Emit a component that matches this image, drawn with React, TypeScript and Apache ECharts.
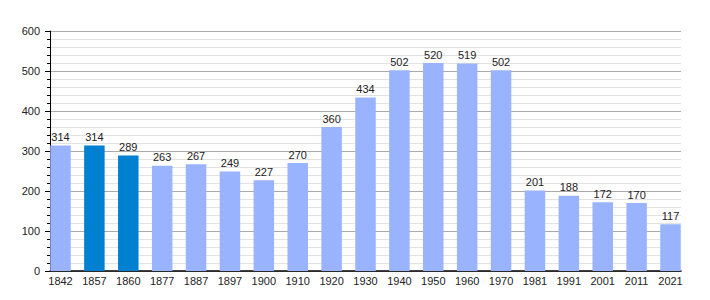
import React, { useEffect, useRef } from "react";
import * as echarts from "echarts";

const years: string[] = ["1842", "1857", "1860", "1877", "1887", "1897", "1900", "1910", "1920", "1930", "1940", "1950", "1960", "1970", "1981", "1991", "2001", "2011", "2021"];
const population: number[] = [314, 314, 289, 263, 267, 249, 227, 270, 360, 434, 502, 520, 519, 502, 201, 188, 172, 170, 117];
const highlighted: string[] = ["1857", "1860"];
const yTicks: number[] = [0, 100, 200, 300, 400, 500, 600];

const LIGHT = "#99b3ff";
const DARK = "#0080d0";
const FONT = "'Liberation Sans', Arial, sans-serif";

export default function App() {
  const ref = useRef<HTMLDivElement>(null);
  useEffect(() => {
    if (!ref.current) return;
    const chart = echarts.init(ref.current, null, { renderer: "svg" });
    const idx = years.map((_, i) => i);
    chart.setOption({
      animation: false,
      backgroundColor: "#ffffff",
      textStyle: { fontFamily: FONT },
      grid: { left: 50, right: 29, top: 31, bottom: 29, containLabel: false },
      xAxis: {
        type: "value",
        min: -0.31,
        max: years.length - 1 + 0.31,
        axisLine: { show: true, onZero: false, lineStyle: { color: "#000", width: 1.5 } },
        axisTick: { show: false },
        splitLine: { show: false },
        axisLabel: {
          show: true,
          customValues: idx,
          formatter: (v: number) => years[Math.round(v)] ?? "",
          color: "#222",
          fontSize: 11,
          fontFamily: FONT,
          margin: 4,
        },
      },
      yAxis: {
        type: "value",
        min: yTicks[0],
        max: yTicks[yTicks.length - 1],
        interval: 100,
        axisLine: { show: true, onZero: false, lineStyle: { color: "#000", width: 1 } },
        axisTick: { show: true, length: 5, lineStyle: { color: "#000" } },
        minorTick: { show: true, splitNumber: 5, length: 3, lineStyle: { color: "#000" } },
        splitLine: { show: true, lineStyle: { color: "#aaaaaa", width: 1 } },
        minorSplitLine: { show: true, lineStyle: { color: "#e2e2e2", width: 1 } },
        axisLabel: { color: "#222", fontSize: 11, fontFamily: FONT, margin: 10 },
      },
      series: [
        {
          type: "bar",
          barWidth: 20.5,
          data: population.map((v, i) => ({
            value: [i, v],
            itemStyle: { color: highlighted.includes(years[i]) ? DARK : LIGHT },
          })),
          label: {
            show: true,
            position: "top",
            distance: 3,
            color: "#222",
            fontSize: 11,
            fontFamily: FONT,
            formatter: (p: any) => String(p.value[1]),
          },
        },
      ],
    });
    return () => chart.dispose();
  }, []);
  return <div ref={ref} style={{ position: "fixed", left: 0, top: 0, width: 710, height: 300 }} />;
}
